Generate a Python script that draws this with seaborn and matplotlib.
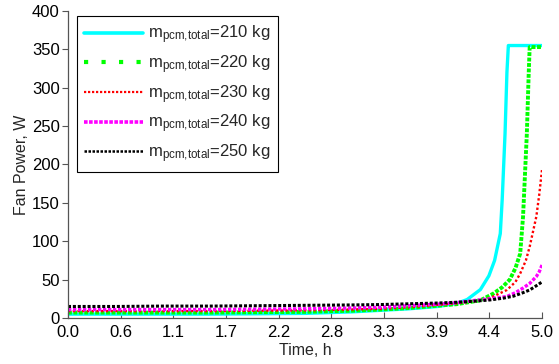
import numpy as np
import pandas as pd
import matplotlib
matplotlib.use("Agg")
import matplotlib.pyplot as plt
from matplotlib.lines import Line2D
import seaborn as sns

# ---- data ----
labels = ["210", "220", "230", "240", "250"]

t210 = [0, 0.5, 1.0, 1.5, 2.0, 2.5, 3.0, 3.3, 3.6, 3.9, 4.1, 4.21, 4.35, 4.44, 4.5, 4.56, 4.58, 4.61, 4.63, 4.645, 4.65, 5.0]
p210 = [5, 5, 5, 5, 5.5, 6, 8, 10, 12, 15, 19, 24, 37, 55, 75, 110, 154, 240, 320, 355, 355, 355]

t220 = [0, 0.5, 1.0, 1.5, 2.0, 2.5, 3.0, 3.3, 3.6, 3.9, 4.1, 4.35, 4.49, 4.58, 4.66, 4.72, 4.77, 4.80, 4.84, 4.86, 4.87, 5.0]
p220 = [7, 7, 7, 7, 7.5, 8, 9.5, 11, 13, 16, 18, 23, 32, 40, 50, 65, 84, 132, 240, 320, 353, 353]

t230 = [0, 0.5, 1.0, 1.5, 2.0, 2.5, 3.0, 3.3, 3.6, 3.9, 4.1, 4.3, 4.45, 4.63, 4.72, 4.77, 4.83, 4.87, 4.94, 4.97, 5.0]
p230 = [9, 9, 9, 9, 9.5, 10, 11, 12, 14, 17, 19, 22, 26, 36.5, 47, 58, 75, 93, 132, 160, 193]

t240 = [0, 0.5, 1.0, 1.5, 2.0, 2.5, 3.0, 3.3, 3.6, 3.9, 4.1, 4.3, 4.45, 4.63, 4.72, 4.80, 4.87, 4.94, 4.97, 5.0]
p240 = [11, 11, 11, 11, 11.5, 12, 13, 14, 16, 18, 20, 23, 25, 28, 33, 39, 45, 54, 60, 69]

t250 = [0, 0.5, 1.0, 1.5, 2.0, 2.5, 3.0, 3.3, 3.6, 3.9, 4.1, 4.3, 4.45, 4.6, 4.70, 4.80, 4.87, 4.94, 5.0]
p250 = [15, 15, 15.5, 15.5, 16, 16.5, 17, 17.5, 18.5, 19.5, 20.5, 22, 23.5, 26, 28.5, 33, 36.5, 42, 47]

xtick_vals = list(np.linspace(0, 5, 10))
xtick_labels = ["0.0", "0.6", "1.1", "1.7", "2.2", "2.8", "3.3", "3.9", "4.4", "5.0"]
ytick_vals = [0, 50, 100, 150, 200, 250, 300, 350, 400]

series = [(t210, p210), (t220, p220), (t230, p230), (t240, p240), (t250, p250)]
colors = ["#00ffff", "#00ff00", "#ff0000", "#ff00ff", "#000000"]
# styles for the curves
styles = ["-", (0, (1, 0.4)), (0, (1, 1)), (0, (1, 0.5)), (0, (1, 0.6))]
widths = [2.4, 2.8, 1.7, 2.4, 2.2]
# styles for the legend samples
leg_styles = ["-", (0, (1.0, 3.2)), (0, (1, 0.8)), (0, (1, 0.4)), (0, (1, 0.6))]
leg_widths = [2.6, 3.0, 1.6, 2.6, 1.8]

sns.set_style("ticks")
plt.rcParams["font.family"] = ["Liberation Sans", "DejaVu Sans"]
plt.rcParams["mathtext.fontset"] = "custom"
plt.rcParams["mathtext.rm"] = "Liberation Sans"
plt.rcParams["mathtext.it"] = "Liberation Sans"

fig = plt.figure(figsize=(5.59, 3.64), dpi=100)
ax = fig.add_axes([0.1216, 0.1264, 0.8480, 0.8434])

texts = []
for (t, p), lab, c, ls, lw in zip(series, labels, colors, styles, widths):
    df = pd.DataFrame({"t": t, "p": p})
    sns.lineplot(data=df, x="t", y="p", ax=ax, color=c, linewidth=lw, legend=False)
    ax.lines[-1].set_linestyle(ls)
    texts.append(r"m$_{\mathrm{pcm{,}total}}$=" + lab + " kg")

handles = [Line2D([], [], color=c, linestyle=ls, linewidth=lw)
           for c, ls, lw in zip(colors, leg_styles, leg_widths)]

ax.set_xlim(0, 5)
ax.set_ylim(0, 400)
ax.set_xticks(xtick_vals)
ax.set_xticklabels(xtick_labels)
ax.set_yticks(ytick_vals)
ax.tick_params(axis="x", direction="in", length=4, width=0.8, labelsize=12,
               colors="#555555", labelcolor="black", pad=5)
ax.tick_params(axis="y", direction="out", length=4, width=0.8, labelsize=12,
               colors="#555555", labelcolor="black", pad=2)
ax.set_xlabel("Time, h", fontsize=11.5, labelpad=2)
ax.set_ylabel("Fan Power, W", fontsize=11.5, labelpad=2)
for s in ["top", "right"]:
    ax.spines[s].set_visible(False)
for s in ["left", "bottom"]:
    ax.spines[s].set_color("#555555")
    ax.spines[s].set_linewidth(0.9)

leg = ax.legend(handles, texts, loc="upper left", bbox_to_anchor=(0.019, 0.983), fontsize=12,
                frameon=True, fancybox=False, edgecolor="black", framealpha=1,
                handlelength=3.5, labelspacing=0.42, borderpad=0.45, handletextpad=0.3,
                borderaxespad=0)
leg.get_frame().set_linewidth(0.8)

fig.savefig("out.png", dpi=100)
